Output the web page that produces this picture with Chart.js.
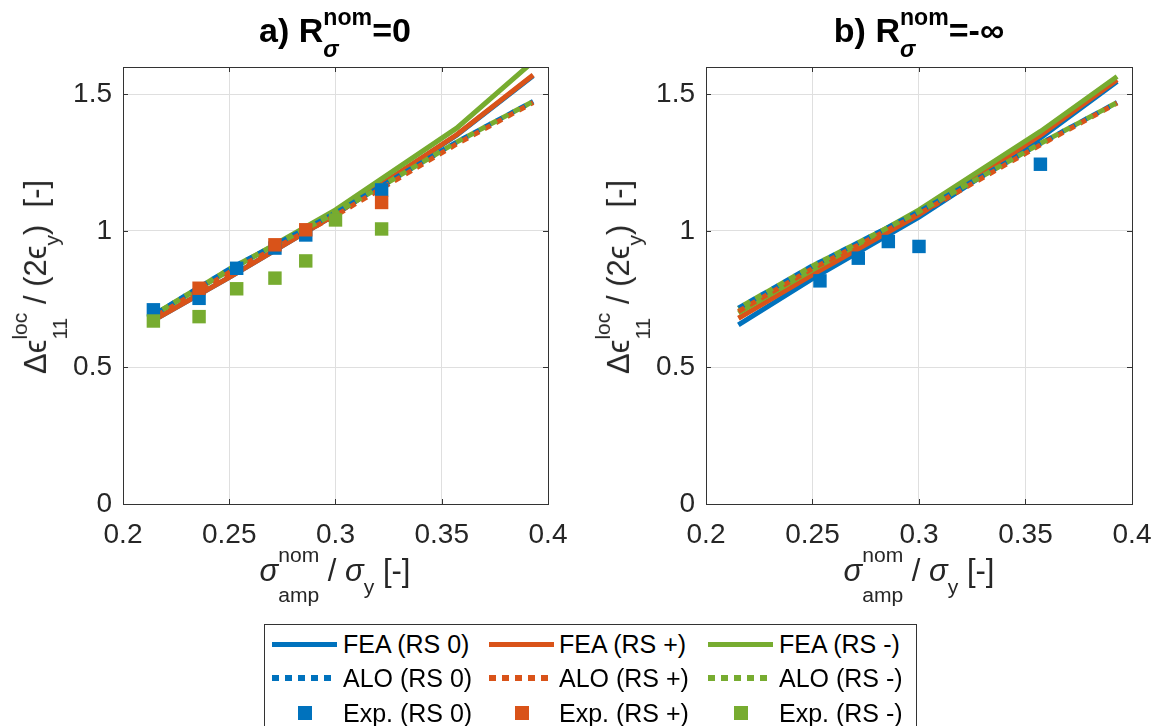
<!DOCTYPE html>
<html>
<head>
<meta charset="utf-8">
<script src="https://cdn.jsdelivr.net/npm/chart.js@4.4.0/dist/chart.umd.min.js"></script>
<style>
  html, body { margin: 0; padding: 0; background: #fff; }
  body { width: 1162px; height: 726px; position: relative; overflow: hidden;
         font-family: "Liberation Sans", Arial, sans-serif; color: #262626; }
  canvas { position: absolute; top: 0; }
  .ttl { position: absolute; font-weight: bold; font-size: 34px; white-space: nowrap;
         transform: translateX(-50%); color: #000; }
  .xlbl { position: absolute; font-size: 31px; white-space: nowrap; transform: translateX(-50%); }
  .ylbl { position: absolute; font-size: 31px; white-space: nowrap;
          transform: translate(-50%, -50%) rotate(-90deg); }
  .ss { display: inline-flex; flex-direction: column; vertical-align: middle;
        font-size: 0.68em; line-height: 1.4; }
  .xlbl .ss, .ylbl .ss { line-height: 1.9; position: relative; top: 0.08em; }
  .sb { font-size: 0.68em; vertical-align: -0.62em; }
  .gr { font-style: italic; }
  #legend { position: absolute; left: 264px; top: 624px; width: 653px; height: 130px;
            border: 1px solid #333; box-sizing: border-box; background: #fff; }
  .lt { position: absolute; font-size: 25px; line-height: 25px; white-space: nowrap; color: #000; }
  .ls { position: absolute; }
</style>
</head>
<body>
<canvas id="plotA" width="570" height="560" style="left:0px"></canvas>
<canvas id="plotB" width="571" height="560" style="left:583px"></canvas>

<div class="ttl" style="left:335px; top:1px">a) R<span class="ss"><span>nom</span><span class="gr">σ</span></span>=0</div>
<div class="ttl" style="left:919px; top:1px">b) R<span class="ss"><span>nom</span><span class="gr">σ</span></span>=-∞</div>

<div class="xlbl" style="left:335px; top:533px"><span class="gr">σ</span><span class="ss"><span>nom</span><span>amp</span></span> / <span class="gr">σ</span><span class="sb">y</span> [-]</div>
<div class="xlbl" style="left:919px; top:533px"><span class="gr">σ</span><span class="ss"><span>nom</span><span>amp</span></span> / <span class="gr">σ</span><span class="sb">y</span> [-]</div>

<div class="ylbl" style="left:38px; top:277px">Δϵ<span class="ss"><span>loc</span><span>11</span></span> / (2ϵ<span class="sb">y</span>)&nbsp; [-]</div>
<div class="ylbl" style="left:621px; top:277px">Δϵ<span class="ss"><span>loc</span><span>11</span></span> / (2ϵ<span class="sb">y</span>)&nbsp; [-]</div>

<div id="legend"></div>

<script>
const xTicks = [0.2, 0.25, 0.3, 0.35, 0.4];
const yTicks = [0, 0.5, 1, 1.5];
const caseNames = ['RS 0', 'RS +', 'RS -'];
const caseColors = ['#0072BD', '#D95319', '#77AC30'];
const methods = ['FEA', 'ALO', 'Exp.'];

// a) R = 0
const aLineX = [0.216, 0.25, 0.3, 0.357, 0.393];
const aFea0 = [0.68, 0.83, 1.06, 1.35, 1.568];
const aFeaP = [0.68, 0.83, 1.06, 1.352, 1.571];
const aFeaM = [0.70, 0.855, 1.077, 1.376, 1.62];
const aAlo0 = [0.70, 0.86, 1.065, 1.325, 1.474];
const aAloP = [0.69, 0.848, 1.056, 1.318, 1.47];
const aAloM = [0.70, 0.86, 1.065, 1.325, 1.474];
const aExpX0 = [0.2143, 0.2358, 0.2535, 0.2715, 0.286, 0.3217];
const aExp0 = [0.711, 0.753, 0.863, 0.937, 0.985, 1.15];
const aExpXP = [0.2358, 0.2715, 0.286, 0.3217];
const aExpP = [0.79, 0.949, 1.004, 1.104];
const aExpXM = [0.2143, 0.2358, 0.2535, 0.2715, 0.286, 0.3, 0.3217];
const aExpM = [0.67, 0.686, 0.788, 0.827, 0.89, 1.04, 1.007];

// b) R = -inf
const bLineX = [0.2152, 0.25, 0.3, 0.357, 0.393];
const bFea0 = [0.656, 0.825, 1.05, 1.34, 1.547];
const bFeaP = [0.68, 0.84, 1.06, 1.35, 1.553];
const bFeaM = [0.70, 0.857, 1.077, 1.364, 1.565];
const bAlo0 = [0.717, 0.872, 1.07, 1.32, 1.47];
const bAloP = [0.705, 0.862, 1.062, 1.315, 1.468];
const bAloM = [0.717, 0.872, 1.07, 1.32, 1.47];
const bExpX0 = [0.2535, 0.2715, 0.2856, 0.3, 0.357];
const bExp0 = [0.817, 0.9, 0.961, 0.943, 1.244];

function pts(xs, ys) {
  return xs.map((x, i) => ({ x: x, y: ys[i] }));
}

function fea(i, xs, ys) {
  return { label: 'FEA (' + caseNames[i] + ')', data: pts(xs, ys), showLine: true,
    borderColor: caseColors[i], borderWidth: 5, pointRadius: 0, clip: 0, order: 8 - i };
}
function alo(i, xs, ys) {
  return { label: 'ALO (' + caseNames[i] + ')', data: pts(xs, ys), showLine: true,
    borderColor: caseColors[i], borderWidth: 5, borderDash: [7, 6],
    borderDashOffset: i === 2 ? 6.5 : 0, pointRadius: 0, clip: 0, order: 5 - i };
}
function exp(i, xs, ys) {
  return { label: 'Exp. (' + caseNames[i] + ')', data: pts(xs, ys), showLine: false,
    pointStyle: 'rect', pointRadius: 9.5, pointHoverRadius: 9.5, pointBorderWidth: 0,
    backgroundColor: caseColors[i], borderColor: caseColors[i], order: 2 - i };
}

// axes box with inward ticks, drawn over the data like MATLAB
const boxPlugin = {
  id: 'box',
  afterDraw(chart) {
    const { ctx, chartArea: a, scales } = chart;
    ctx.save();
    ctx.strokeStyle = '#333';
    ctx.lineWidth = 1;
    ctx.beginPath();
    xTicks.forEach(v => {
      const px = Math.round(scales.x.getPixelForValue(v)) + 0.5;
      ctx.moveTo(px, a.bottom); ctx.lineTo(px, a.bottom - 5);
      ctx.moveTo(px, a.top); ctx.lineTo(px, a.top + 5);
    });
    yTicks.forEach(v => {
      const py = Math.round(scales.y.getPixelForValue(v)) + 0.5;
      ctx.moveTo(a.left, py); ctx.lineTo(a.left + 5, py);
      ctx.moveTo(a.right, py); ctx.lineTo(a.right - 5, py);
    });
    ctx.stroke();
    ctx.strokeRect(Math.round(a.left) + 0.5, Math.round(a.top) + 0.5,
      Math.round(a.right - a.left), Math.round(a.bottom - a.top));
    ctx.restore();
  }
};

const tickFont = { family: '"Liberation Sans", Arial, sans-serif', size: 28 };

function makeChart(id, datasets) {
  return new Chart(document.getElementById(id), {
    type: 'scatter',
    data: { datasets: datasets },
    options: {
      responsive: false,
      animation: false,
      layout: { padding: { top: 67, right: 22, left: 0, bottom: 0 } },
      plugins: { legend: { display: false }, tooltip: { enabled: false } },
      scales: {
        x: {
          type: 'linear', min: 0.2, max: 0.4,
          afterBuildTicks: s => { s.ticks = xTicks.map(v => ({ value: v })); },
          afterFit: s => { s.height = 56; s.paddingLeft = 0; s.paddingRight = 0; },
          grid: { color: '#dfdfdf', drawTicks: false },
          border: { display: false },
          ticks: { font: tickFont, color: '#262626', padding: 14, maxRotation: 0, autoSkip: false,
                   callback: v => String(v) }
        },
        y: {
          type: 'linear', min: 0, max: 1.6,
          afterBuildTicks: s => { s.ticks = yTicks.map(v => ({ value: v })); },
          afterFit: s => { s.width = 123; },
          grid: { color: '#dfdfdf', drawTicks: false },
          border: { display: false },
          ticks: { font: tickFont, color: '#262626', padding: 11, callback: v => String(v) }
        }
      }
    },
    plugins: [boxPlugin]
  });
}

makeChart('plotA', [
  fea(0, aLineX, aFea0), fea(1, aLineX, aFeaP), fea(2, aLineX, aFeaM),
  alo(0, aLineX, aAlo0), alo(1, aLineX, aAloP), alo(2, aLineX, aAloM),
  exp(0, aExpX0, aExp0), exp(1, aExpXP, aExpP), exp(2, aExpXM, aExpM)
]);

makeChart('plotB', [
  fea(0, bLineX, bFea0), fea(1, bLineX, bFeaP), fea(2, bLineX, bFeaM),
  alo(0, bLineX, bAlo0), alo(1, bLineX, bAloP), alo(2, bLineX, bAloM),
  exp(0, bExpX0, bExp0)
]);

// shared legend, three columns, one row per method
const legend = document.getElementById('legend');
const colSample = [7, 224, 443];
const colText = [78, 294, 514];
const rowMid = [19, 53, 88];
methods.forEach((m, r) => {
  caseNames.forEach((c, k) => {
    const s = document.createElement('div');
    s.className = 'ls';
    if (r === 2) {
      s.style.cssText = 'left:' + (colSample[k] + 26) + 'px;top:' + (rowMid[r] - 7) +
        'px;width:14px;height:14px;background:' + caseColors[k];
    } else if (r === 1) {
      s.style.cssText = 'left:' + colSample[k] + 'px;top:' + (rowMid[r] - 3) +
        'px;width:59px;height:6px;background:repeating-linear-gradient(to right,' +
        caseColors[k] + ' 0 7px, transparent 7px 13px)';
    } else {
      s.style.cssText = 'left:' + colSample[k] + 'px;top:' + (rowMid[r] - 2.5) +
        'px;width:65px;height:5px;background:' + caseColors[k];
    }
    legend.appendChild(s);
    const t = document.createElement('div');
    t.className = 'lt';
    t.style.left = colText[k] + 'px';
    t.style.top = (rowMid[r] - 12) + 'px';
    t.textContent = m + ' (' + c + ')';
    legend.appendChild(t);
  });
});
</script>
</body>
</html>
